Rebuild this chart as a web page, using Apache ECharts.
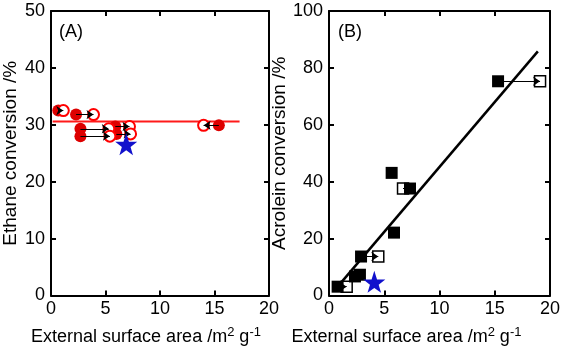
<!DOCTYPE html>
<html><head><meta charset="utf-8">
<script src="https://cdn.jsdelivr.net/npm/echarts@6/dist/echarts.min.js"></script>
<style>html,body{margin:0;padding:0;background:#fff}#c{width:566px;height:351px}</style>
</head><body><div id="c"></div>
<script>
// Panel A: ethane conversion
const filledA_x = [0.67, 2.3, 2.7, 2.7, 5.9, 6.0, 15.4];
const filledA_y = [32.5, 31.8, 29.3, 28.0, 29.7, 28.4, 29.9];
const openA_x   = [1.13, 3.9, 5.3, 5.4, 7.2, 7.3, 14.0];
const openA_y   = [32.5, 31.8, 29.3, 28.0, 29.7, 28.4, 29.9];
const starA = [6.9, 26.6];
const fitA_x = [0.15, 17.3];
const fitA_y = [30.6, 30.6];
// Panel B: acrolein conversion
const filledB_x = [15.3, 5.67, 7.33, 5.88, 2.9, 2.35, 2.8, 0.78];
const filledB_y = [75.3, 43.1, 37.6, 22.1, 13.7, 6.7, 7.3, 3.1];
const openB_x = [19.1, 6.7, 4.46, 1.6];
const openB_y = [75.3, 37.6, 13.7, 3.1];
const arrowB_from = [0, 2, 4, 7]; // index into filledB -> openB in order
const starB = [4.1, 4.8];
const fitB_x = [1.15, 18.9];
const fitB_y = [4.8, 85.8];
const xTicks = [0, 5, 10, 15, 20];
const yTicksA = [0, 10, 20, 30, 40, 50];
const yTicksB = [0, 20, 40, 60, 80, 100];

const FONT = 'Liberation Sans, Arial, sans-serif';
const STAR = 'path://M50,0 L61.8,35.5 L97.6,35.5 L68.8,57.4 L79.4,91 L50,70.5 L20.6,91 L31.2,57.4 L2.4,35.5 L38.2,35.5 Z';
const zip = (a, b) => a.map((v, i) => [v, b[i]]);

function axisX(grid, pos, show, nameStr) {
  return {
    type: 'value', gridIndex: grid, position: pos, min: xTicks[0], max: xTicks[xTicks.length - 1], interval: xTicks[1] - xTicks[0],
    axisLine: {show: true, onZero: false, lineStyle: {color: '#000', width: 2}},
    axisTick: {show: true, inside: true, length: 5, lineStyle: {color: '#000', width: 2}},
    splitLine: {show: false},
    axisLabel: {show: show, color: '#000', fontSize: 18, fontFamily: FONT, margin: 5},
    name: show ? nameStr : '', nameLocation: 'middle', nameGap: 30,
    nameTextStyle: nameStyle(grid === 0 ? 28 : 66)
  };
}
function nameStyle(padR) {
  return {color: '#000', fontSize: 18, fontFamily: FONT, padding: [0, padR, 0, 0],
    rich: {sup: {fontSize: 13, fontFamily: FONT, color: '#000', verticalAlign: 'top', padding: [0, 0, 10, 0]}}};
}
function axisY(grid, pos, show, ticks, nameStr, gap) {
  return {
    type: 'value', gridIndex: grid, position: pos, min: ticks[0], max: ticks[ticks.length - 1], interval: ticks[1] - ticks[0],
    axisLine: {show: true, onZero: false, lineStyle: {color: '#000', width: 2}},
    axisTick: {show: true, inside: true, length: 5, lineStyle: {color: '#000', width: 2}},
    splitLine: {show: false},
    axisLabel: {show: show, color: '#000', fontSize: 18, fontFamily: FONT, margin: 6},
    name: show ? nameStr : '', nameLocation: 'middle', nameGap: gap,
    nameTextStyle: {color: '#000', fontSize: 19, fontFamily: FONT}
  };
}
const xName = 'External surface area /m{sup|2} g{sup|-1}';

const option = {
  animation: false,
  grid: [
    {left: 51, right: 297, top: 11, bottom: 48},
    {left: 329, right: 16, top: 11, bottom: 47}
  ],
  xAxis: [
    axisX(0, 'bottom', true, xName), axisX(0, 'top', false, ''),
    axisX(1, 'bottom', true, xName), axisX(1, 'top', false, '')
  ],
  yAxis: [
    axisY(0, 'left', true, yTicksA, 'Ethane conversion /%', 31), axisY(0, 'right', false, yTicksA, '', 0),
    axisY(1, 'left', true, yTicksB, 'Acrolein conversion /%', 31), axisY(1, 'right', false, yTicksB, '', 0)
  ],
  graphic: [
    {type: 'text', left: 59, top: 23, style: {text: '(A)', fontSize: 18, fontFamily: FONT, fill: '#000'}},
    {type: 'text', left: 338, top: 23, style: {text: '(B)', fontSize: 18, fontFamily: FONT, fill: '#000'}}
  ],
  series: [
    {type: 'line', xAxisIndex: 0, yAxisIndex: 0, data: zip(fitA_x, fitA_y), symbol: 'none',
     lineStyle: {color: '#ff1a1a', width: 2}, z: 1},
    {type: 'scatter', xAxisIndex: 0, yAxisIndex: 0, data: zip(filledA_x, filledA_y), symbol: 'circle', symbolSize: 12,
     itemStyle: {color: '#dd0000', opacity: 1}, z: 2},
    {type: 'scatter', xAxisIndex: 0, yAxisIndex: 0, data: zip(openA_x, openA_y), symbol: 'circle', symbolSize: 11,
     itemStyle: {color: '#fff', borderColor: '#ff0000', borderWidth: 2, opacity: 1}, z: 3},
    {type: 'lines', coordinateSystem: 'cartesian2d', xAxisIndex: 0, yAxisIndex: 0,
     data: filledA_x.map((x, i) => ({coords: [[x, filledA_y[i]], [openA_x[i], openA_y[i]]]})),
     symbol: ['none', 'arrow'], symbolSize: 7, lineStyle: {color: '#000', width: 1, opacity: 1}, z: 4},
    {type: 'scatter', xAxisIndex: 0, yAxisIndex: 0, data: [starA], symbol: STAR, symbolSize: 22,
     itemStyle: {color: '#1111cc', opacity: 1}, z: 5},

    {type: 'line', xAxisIndex: 2, yAxisIndex: 2, data: zip(fitB_x, fitB_y), symbol: 'none',
     lineStyle: {color: '#000', width: 2.5}, z: 1},
    {type: 'scatter', xAxisIndex: 2, yAxisIndex: 2, data: zip(openB_x, openB_y), symbol: 'rect', symbolSize: 11,
     itemStyle: {color: '#fff', borderColor: '#000', borderWidth: 1.5, opacity: 1}, z: 2},
    {type: 'scatter', xAxisIndex: 2, yAxisIndex: 2, data: zip(filledB_x, filledB_y), symbol: 'rect', symbolSize: 12,
     itemStyle: {color: '#000', opacity: 1}, z: 3},
    {type: 'lines', coordinateSystem: 'cartesian2d', xAxisIndex: 2, yAxisIndex: 2,
     data: arrowB_from.map((fi, i) => ({coords: [[filledB_x[fi], filledB_y[fi]], [openB_x[i], openB_y[i]]]})),
     symbol: ['none', 'arrow'], symbolSize: 7, lineStyle: {color: '#000', width: 1, opacity: 1}, z: 4},
    {type: 'scatter', xAxisIndex: 2, yAxisIndex: 2, data: [starB], symbol: STAR, symbolSize: 22,
     itemStyle: {color: '#1111cc', opacity: 1}, z: 5}
  ]
};
echarts.init(document.getElementById('c')).setOption(option);
</script></body></html>
